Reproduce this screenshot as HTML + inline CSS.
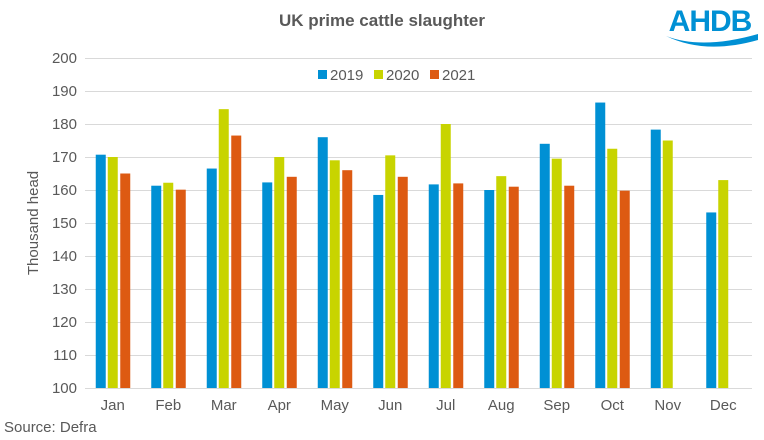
<!DOCTYPE html>
<html><head><meta charset="utf-8"><style>
body{margin:0;background:#fff;}
svg{display:block;font-family:"Liberation Sans",sans-serif;}
</style></head><body>
<svg width="764" height="440" viewBox="0 0 764 440">
<text x="382" y="26" text-anchor="middle" font-size="17" font-weight="bold" fill="#595959">UK prime cattle slaughter</text>
<g fill="#0090d4">
<text x="710" y="31" text-anchor="middle" font-size="30" font-weight="bold" fill="#0090d4" letter-spacing="-1">AHDB</text>
<path d="M666 36 Q702 50 758 34 L758 40 Q705 55 666 36Z"/>
</g>
<g id="grid" stroke="#d9d9d9" stroke-width="1"></g>
<g id="ylab" font-size="15" fill="#595959" text-anchor="end"></g>
<text transform="translate(38,223) rotate(-90)" text-anchor="middle" font-size="15" fill="#595959">Thousand head</text>
<g id="bars"></g>
<g id="xlab" font-size="15" fill="#595959" text-anchor="middle"></g>
<g font-size="15" fill="#595959">
<rect x="318" y="70" width="9" height="9" fill="#0090d4"/><text x="330" y="80">2019</text>
<rect x="374" y="70" width="9" height="9" fill="#c8d400"/><text x="386" y="80">2020</text>
<rect x="430" y="70" width="9" height="9" fill="#dd5a12"/><text x="442" y="80">2021</text>
</g>
<text x="4" y="432" font-size="15" fill="#595959">Source: Defra</text>
</svg>
<script>
const ns="http://www.w3.org/2000/svg";
function el(p,t,a,txt){const e=document.createElementNS(ns,t);for(const k in a)e.setAttribute(k,a[k]);if(txt)e.textContent=txt;document.getElementById(p).appendChild(e);}
const y=v=>388-(v-100)*3.3;
for(let v=100;v<=200;v+=10){el("grid","line",{x1:85,x2:752,y1:y(v)+.5,y2:y(v)+.5});el("ylab","text",{x:77,y:y(v)+5},String(v));}
const m=["Jan","Feb","Mar","Apr","May","Jun","Jul","Aug","Sep","Oct","Nov","Dec"];
const d=[[170.7,170,165],[161.3,162.2,160.1],[166.5,184.5,176.5],[162.3,170,164],[176,169,166],[158.5,170.5,164],[161.7,180,162],[160,164.2,161],[174,169.5,161.3],[186.5,172.5,159.8],[178.3,175,null],[153.2,163,null]];
const c=["#0090d4","#c8d400","#dd5a12"];
const off=[-17,-5,7.5];
for(let i=0;i<12;i++){const cx=85+55.5*(i+.5);
el("xlab","text",{x:cx,y:410},m[i]);
d[i].forEach((v,j)=>{if(v==null)return;el("bars","rect",{x:cx+off[j],y:y(v),width:10,height:388-y(v),fill:c[j]});});}
</script>
</body></html>
